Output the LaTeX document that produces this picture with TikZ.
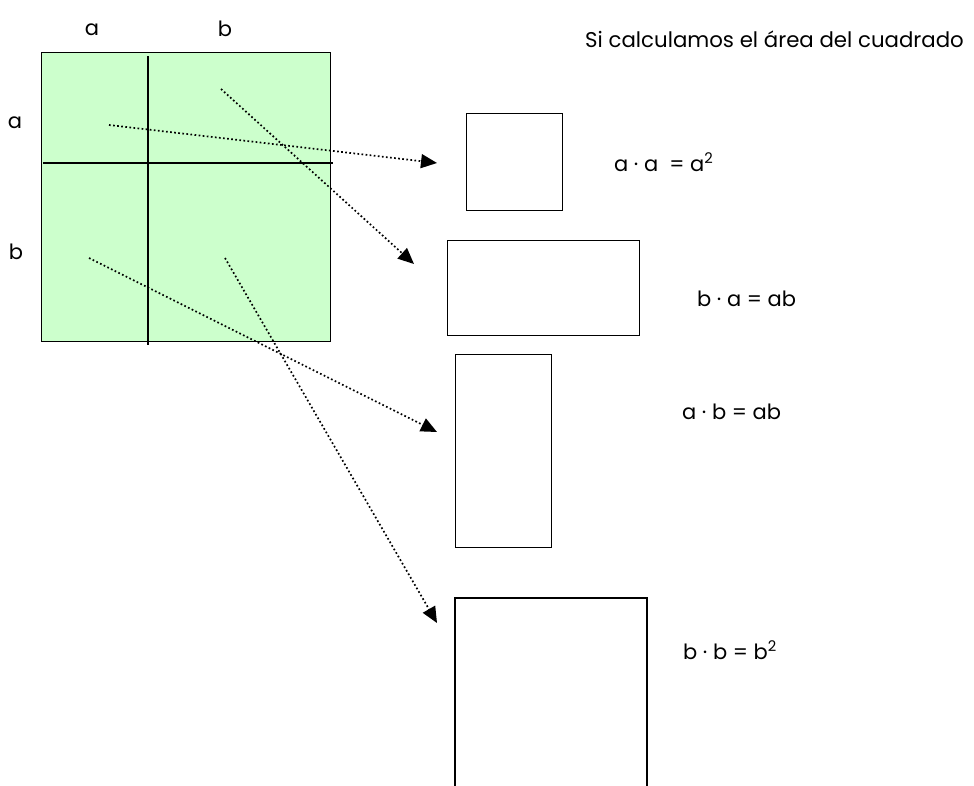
\documentclass[tikz,border=0pt]{standalone}
\usepackage{fontspec}
\setmainfont{Poppins}
\usetikzlibrary{arrows.meta}
\begin{document}
\begin{tikzpicture}[x=1pt,y=-1pt,
  lbl/.style={inner sep=0pt, font=\fontsize{21}{25}\selectfont},
  ttl/.style={inner sep=0pt, font=\fontsize{21.3}{25}\selectfont},
  box/.style={draw, line width=1.4pt, inner sep=0pt, anchor=north west},
  edge/.style={line width=1.4pt},
  ptr/.style={line width=1.7pt, dash pattern=on 1.7pt off 2.4pt, -{Triangle[length=16pt,width=14pt]}},
]
\useasboundingbox (0,0) rectangle (974,785);
% big green square
\node[box, fill={rgb,255:red,204;green,255;blue,204}, minimum width=289pt, minimum height=289pt] (sq) at (41,52) {};
\coordinate (vt) at (148,56);
\coordinate (vb) at (148,345);
\coordinate (hl) at (43,163);
\coordinate (hr) at (333,163);
\draw[edge] (vt) -- (vb);
\draw[edge] (hl) -- (hr);
% side labels
\node[lbl] (la1) at (92,30) {a};
\node[lbl] (lb1) at (225,29) {b};
\node[lbl] (la2) at (15,123) {a};
\node[lbl] (lb2) at (16,252) {b};
% title
\node[ttl, anchor=west] (title) at (585,39) {Si calculamos el área del cuadrado};
% small rectangles
\node[box, minimum width=96pt, minimum height=97pt] (r1) at (466,113) {};
\node[box, minimum width=192pt, minimum height=95pt] (r2) at (447,240) {};
\node[box, minimum width=96pt, minimum height=193pt] (r3) at (455,354) {};
\coordinate (r4bl) at (455,800);
\coordinate (r4tl) at (455,598);
\coordinate (r4tr) at (647,598);
\coordinate (r4br) at (647,800);
\draw[line width=1.4pt] (r4bl) -- (r4tl) -- (r4tr) -- (r4br);
% equations
\node[lbl, anchor=west] (e1) at (614,162) {a · a \ = a\textsuperscript{2}};
\node[lbl, anchor=west] (e2) at (697,299) {b · a = ab};
\node[lbl, anchor=west] (e3) at (682,412) {a · b = ab};
\node[lbl, anchor=west] (e4) at (683,650) {b · b = b\textsuperscript{2}};
% arrows
\coordinate (s1) at (109,125);
\coordinate (t1) at (437,163);
\coordinate (s2) at (221,89);
\coordinate (t2) at (414,264);
\coordinate (s3) at (89,258);
\coordinate (t3) at (437,432);
\coordinate (s4) at (225,258);
\coordinate (t4) at (437,623);
\draw[ptr] (s1) -- (t1);
\draw[ptr] (s2) -- (t2);
\draw[ptr] (s3) -- (t3);
\draw[ptr] (s4) -- (t4);
\end{tikzpicture}
\end{document}
